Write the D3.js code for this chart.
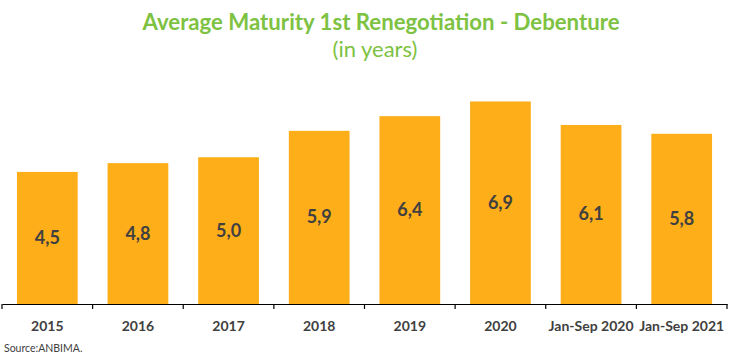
<!DOCTYPE html>
<html><head><meta charset="utf-8">
<script src="https://cdn.jsdelivr.net/npm/d3@7"></script>
<style>body{margin:0;background:#fff}svg{display:block}</style>
</head><body>
<script>
const categories = ["2015","2016","2017","2018","2019","2020","Jan-Sep 2020","Jan-Sep 2021"];
const values = [4.5,4.8,5.0,5.9,6.4,6.9,6.1,5.8];
const labels = ["4,5","4,8","5,0","5,9","6,4","6,9","6,1","5,8"];

const W=751,H=356;
const svg=d3.select("body").append("svg").attr("width",W).attr("height",H);
const font="Lato, 'Open Sans', sans-serif";
const x=d3.scaleBand().domain(categories).range([2,727]).paddingInner(0.33).paddingOuter(0.165);
const y=d3.scaleLinear().domain([0,7]).range([304,304-7*29.35]);

svg.append("text").attr("x",381).attr("y",30).attr("text-anchor","middle")
  .attr("font-family",font).attr("font-weight","bold").attr("font-size",22.2).attr("fill","#7dc242")
  .text("Average Maturity 1st Renegotiation - Debenture");
svg.append("text").attr("x",375).attr("y",57).attr("text-anchor","middle")
  .attr("font-family",font).attr("font-size",22).attr("fill","#7dc242").text("(in years)");

svg.selectAll("rect.bar").data(values).join("rect").attr("class","bar")
  .attr("x",(d,i)=>x(categories[i])).attr("width",x.bandwidth())
  .attr("y",d=>y(d)).attr("height",d=>y(0)-y(d)).attr("fill","#fdae19");

svg.selectAll("text.val").data(values).join("text").attr("class","val")
  .attr("x",(d,i)=>x(categories[i])+x.bandwidth()/2)
  .attr("y",d=>(y(d)+y(0))/2+6).attr("text-anchor","middle")
  .attr("font-family",font).attr("font-weight","bold").attr("font-size",18).attr("fill","#404040")
  .text((d,i)=>labels[i]);

const axis=d3.axisBottom(x).tickSize(0).tickSizeOuter(0);
const g=svg.append("g").attr("transform","translate(0,304)").call(axis);
g.select(".domain").attr("stroke","#000").attr("stroke-width",1.2);
g.selectAll(".tick text").attr("font-family",font).attr("font-weight","bold").attr("font-size",14)
  .attr("fill","#404040").attr("dy",0).attr("y",27);
const bounds=categories.map(c=>x(c)-x.step()*x.paddingInner()/2);
bounds.push(727);
bounds[0]=2;
g.selectAll("line.bnd").data(bounds).join("line").attr("class","bnd")
  .attr("x1",d=>d).attr("x2",d=>d).attr("y1",0).attr("y2",5).attr("stroke","#000").attr("stroke-width",1.2);

svg.append("text").attr("x",4).attr("y",352).attr("font-family",font).attr("font-size",10.5)
  .attr("fill","#404040").text("Source:ANBIMA.");
</script>
</body></html>
